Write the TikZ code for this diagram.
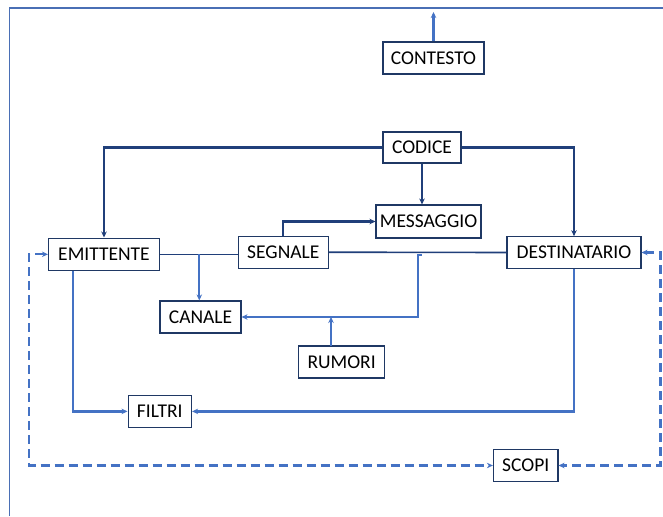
\documentclass[tikz,border=0pt]{standalone}
\usepackage{fontspec}
\setmainfont{Carlito}
\usetikzlibrary{arrows.meta}
\definecolor{navyb}{HTML}{1F3864}
\definecolor{navyl}{HTML}{203F7A}
\definecolor{blu}{HTML}{4472C4}
\definecolor{framec}{HTML}{4A6FB5}
\begin{document}
\begin{tikzpicture}[x=1pt,y=-1pt,
  box/.style={draw=navyb,line width=1.1pt,fill=white,inner sep=0pt,
    font=\fontsize{19.5}{22}\selectfont,text=black},
  tip/.style={-{Stealth[length=6pt,width=5.5pt]}},
  dk/.style={draw=navyl,line width=2.3pt},
  bl/.style={draw=blu,line width=2.3pt},
  dsh/.style={draw=blu,line width=2.3pt,dash pattern=on 9pt off 5pt,
    {Stealth[length=6pt,width=5.5pt]}-{Stealth[length=6pt,width=5.5pt]}}]
\useasboundingbox (0,0) rectangle (663,516);
\fill[white] (0,0) rectangle (663,516);
% frame
\draw[framec,line width=1.8pt] (9.5,516) -- (9.5,8) -- (663,8);
% boxes
\node[box,minimum width=101pt,minimum height=32pt] (contesto) at (433.5,58) {CONTESTO};
\node[box,minimum width=78pt,minimum height=31pt] (codice) at (422,147.5) {CODICE};
\node[box,minimum width=105pt,minimum height=33pt] (messaggio) at (428.5,221.5) {MESSAGGIO};
\node[box,minimum width=111pt,minimum height=32.5pt] (emittente) at (104,254.3) {EMITTENTE};
\node[box,minimum width=90.5pt,minimum height=32pt] (segnale) at (283.3,252.2) {SEGNALE};
\node[box,minimum width=134pt,minimum height=31.6pt] (destinatario) at (574,252.5) {DESTINATARIO};
\node[box,minimum width=81pt,minimum height=32pt] (canale) at (200.5,317) {CANALE};
\node[box,minimum width=86pt,minimum height=32pt] (rumori) at (341.6,362) {RUMORI};
\node[box,minimum width=63.5pt,minimum height=32.5pt] (filtri) at (159.8,411.4) {FILTRI};
\node[box,minimum width=64.6pt,minimum height=32.4pt] (scopi) at (525.7,465.5) {SCOPI};
% helper coordinates
\coordinate (ctop) at (433.5,12);
\coordinate (br) at (199.3,254.3);
\coordinate (nt) at (421.5,255);
\coordinate (nv) at (418,255);
\coordinate (rt) at (331,346);
\coordinate (eb) at (72.7,270.5);
\coordinate (lx) at (29,0);
\coordinate (rx) at (660.5,0);
% CONTESTO up
\draw[bl,tip] (contesto.north) -- (ctop);
% CODICE connectors
\draw[dk,tip] (codice.west) -| (emittente.north);
\draw[dk,tip] (codice.east) -| (destinatario.north);
\draw[dk,tip] (codice.south) -- (codice.south |- messaggio.north);
\draw[dk,tip] (segnale.north) |- (messaggio.west);
% main line
\draw[draw=navyl,line width=1.6pt] (emittente.east) -- (emittente.east -| segnale.west);
\draw[draw=navyl,line width=1.6pt] (segnale.east) -- (destinatario.west);
% canale
\draw[bl,tip] (br) -- (br |- canale.north);
\draw[bl,tip] (nt) -- (nv) |- (canale.east);
\draw[bl,tip] (rt) -- (rt |- canale.east);
% filtri
\draw[bl,tip] (eb) |- (filtri.west);
\draw[bl,tip] (destinatario.south) |- (filtri.east);
% dashed scopi
\draw[dsh] (emittente.west) -- (emittente.west -| lx) |- (scopi.west);
\draw[dsh] (destinatario.east) -- (destinatario.east -| rx) |- (scopi.east);
\end{tikzpicture}
\end{document}
